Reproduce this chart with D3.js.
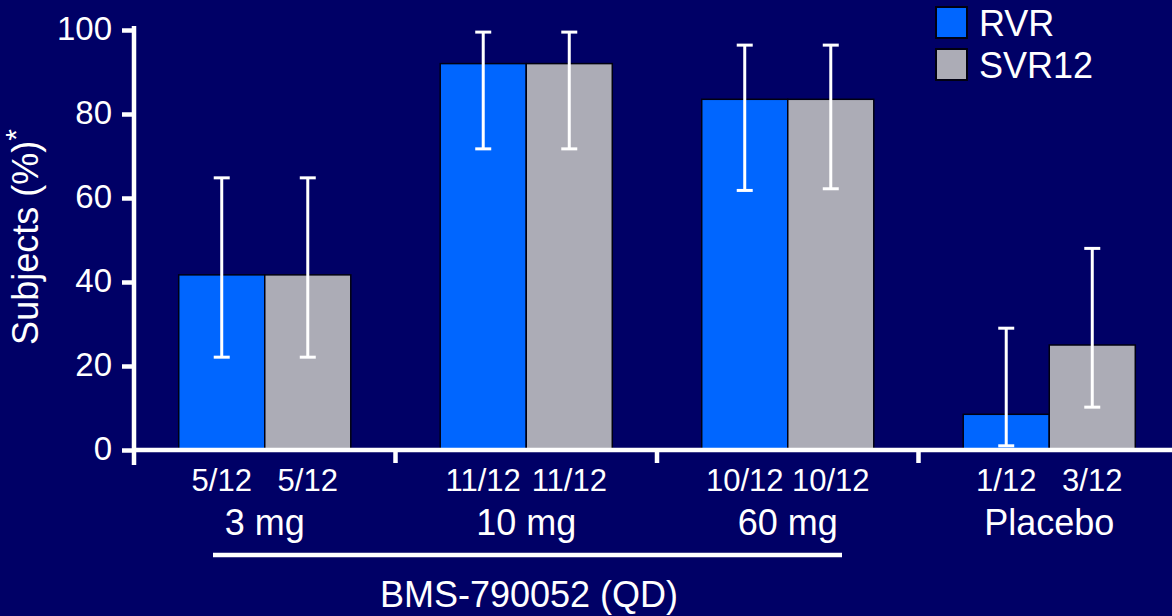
<!DOCTYPE html>
<html>
<head>
<meta charset="utf-8">
<script src="https://cdn.jsdelivr.net/npm/d3@7"></script>
<style>
  html, body { margin: 0; padding: 0; background: #000066; }
  svg { display: block; font-family: "Liberation Sans", Arial, sans-serif; }
</style>
</head>
<body>
<div id="chart"></div>
<script>
// Data
var groups = ["3 mg", "10 mg", "60 mg", "Placebo"];
var series = ["RVR", "SVR12"];
var rvrValues = [41.7, 92, 83.5, 8.5];
var svrValues = [41.7, 92, 83.5, 25];
var rvrLow = [22.1, 71.7, 61.8, 1];
var rvrHigh = [64.8, 99.5, 96.4, 29];
var svrLow = [22.1, 71.7, 62.2, 10.2];
var svrHigh = [64.8, 99.5, 96.4, 48];
var rvrCounts = ["5/12", "11/12", "10/12", "1/12"];
var svrCounts = ["5/12", "11/12", "10/12", "3/12"];
var yTicks = [0, 20, 40, 60, 80, 100];

var colors = { RVR: "#0066ff", SVR12: "#acacb6" };

var svgWidth = 1172;
var svgHeight = 616;

var svg = d3.select("#chart")
  .append("svg")
  .attr("width", svgWidth)
  .attr("height", svgHeight);

svg.append("rect")
  .attr("width", svgWidth)
  .attr("height", svgHeight)
  .attr("fill", "#000066");

// rows for the bars
var rows = [];
groups.forEach(function (g, i) {
  rows.push({ group: g, key: "RVR", value: rvrValues[i], low: rvrLow[i], high: rvrHigh[i], count: rvrCounts[i] });
  rows.push({ group: g, key: "SVR12", value: svrValues[i], low: svrLow[i], high: svrHigh[i], count: svrCounts[i] });
});

//Scale
var x0 = d3.scaleBand()
  .domain(groups)
  .range([134, 1180])
  .paddingInner(0.342)
  .paddingOuter(0.171);

var x1 = d3.scaleBand()
  .domain(series)
  .range([0, x0.bandwidth()]);

var y = d3.scaleLinear()
  .domain([0, 100])
  .range([450, 30]);

var chartGroup = svg.append("g");

//Marks
chartGroup.selectAll("rect.bar")
  .data(rows)
  .enter()
  .append("rect")
  .attr("class", "bar")
  .attr("x", d => x0(d.group) + x1(d.key))
  .attr("y", d => y(d.value))
  .attr("width", x1.bandwidth())
  .attr("height", d => y(0) - y(d.value))
  .attr("fill", d => colors[d.key])
  .attr("stroke", "#000011")
  .attr("stroke-width", 1.5);

// error bars
var cx = d => x0(d.group) + x1(d.key) + x1.bandwidth() / 2;
var err = chartGroup.selectAll("g.err")
  .data(rows)
  .enter()
  .append("g")
  .attr("class", "err")
  .attr("stroke", "white")
  .attr("stroke-width", 3);

err.append("line")
  .attr("x1", cx).attr("x2", cx)
  .attr("y1", d => y(d.low)).attr("y2", d => y(d.high));
err.append("line")
  .attr("x1", d => cx(d) - 8).attr("x2", d => cx(d) + 8)
  .attr("y1", d => y(d.low)).attr("y2", d => y(d.low));
err.append("line")
  .attr("x1", d => cx(d) - 8).attr("x2", d => cx(d) + 8)
  .attr("y1", d => y(d.high)).attr("y2", d => y(d.high));

//Axis
var leftAxis = d3.axisLeft(y)
  .tickValues(yTicks)
  .tickSize(12)
  .tickPadding(10);

var yAxisG = svg.append("g")
  .attr("transform", "translate(134,0)")
  .call(leftAxis);
yAxisG.select(".domain").remove();
yAxisG.selectAll("line").attr("stroke", "white").attr("stroke-width", 4.5);
yAxisG.selectAll("text")
  .attr("fill", "white")
  .style("font-size", "33px")
  .attr("dy", "0.3em");

svg.append("line")
  .attr("x1", 134).attr("x2", 134)
  .attr("y1", 26).attr("y2", 465)
  .attr("stroke", "white").attr("stroke-width", 4.5);

// x axis line and group separators
svg.append("line")
  .attr("x1", 134).attr("x2", svgWidth)
  .attr("y1", y(0)).attr("y2", y(0))
  .attr("stroke", "white").attr("stroke-width", 4.5);

svg.selectAll("line.sep")
  .data(groups.slice(1))
  .enter()
  .append("line")
  .attr("class", "sep")
  .attr("x1", d => x0(d) - x0.step() * x0.paddingInner() / 2)
  .attr("x2", d => x0(d) - x0.step() * x0.paddingInner() / 2)
  .attr("y1", y(0)).attr("y2", 463)
  .attr("stroke", "white").attr("stroke-width", 4.5);

//Labels
chartGroup.selectAll("text.count")
  .data(rows)
  .enter()
  .append("text")
  .attr("class", "count")
  .attr("x", cx)
  .attr("y", 491)
  .attr("text-anchor", "middle")
  .attr("fill", "white")
  .style("font-size", "31px")
  .text(d => d.count);

svg.selectAll("text.group")
  .data(groups)
  .enter()
  .append("text")
  .attr("class", "group")
  .attr("x", d => x0(d) + x0.bandwidth() / 2)
  .attr("y", 535)
  .attr("text-anchor", "middle")
  .attr("fill", "white")
  .style("font-size", "36px")
  .text(d => d);

// bracket under the BMS doses
svg.append("line")
  .attr("x1", 213).attr("x2", 842)
  .attr("y1", 555).attr("y2", 555)
  .attr("stroke", "white").attr("stroke-width", 4.5);

svg.append("text")
  .attr("x", 529)
  .attr("y", 607)
  .attr("text-anchor", "middle")
  .attr("fill", "white")
  .style("font-size", "36px")
  .text("BMS-790052 (QD)");

var yTitle = svg.append("text")
  .attr("transform", "translate(38, 237) rotate(-90)")
  .attr("text-anchor", "middle")
  .attr("fill", "white")
  .style("font-size", "36px");
yTitle.append("tspan").text("Subjects (%)");
yTitle.append("tspan").attr("dy", "-0.4em").style("font-size", "30px").text("*");

// Legend
var legend = svg.selectAll("g.legend")
  .data(series)
  .enter()
  .append("g")
  .attr("class", "legend")
  .attr("transform", (d, i) => `translate(936, ${7 + i * 42})`);

legend.append("rect")
  .attr("width", 31)
  .attr("height", 31)
  .attr("fill", d => colors[d])
  .attr("stroke", "#000011")
  .attr("stroke-width", 2);

legend.append("text")
  .attr("x", 43)
  .attr("y", 29)
  .attr("fill", "white")
  .style("font-size", "36px")
  .text(d => d);
</script>
</body>
</html>
